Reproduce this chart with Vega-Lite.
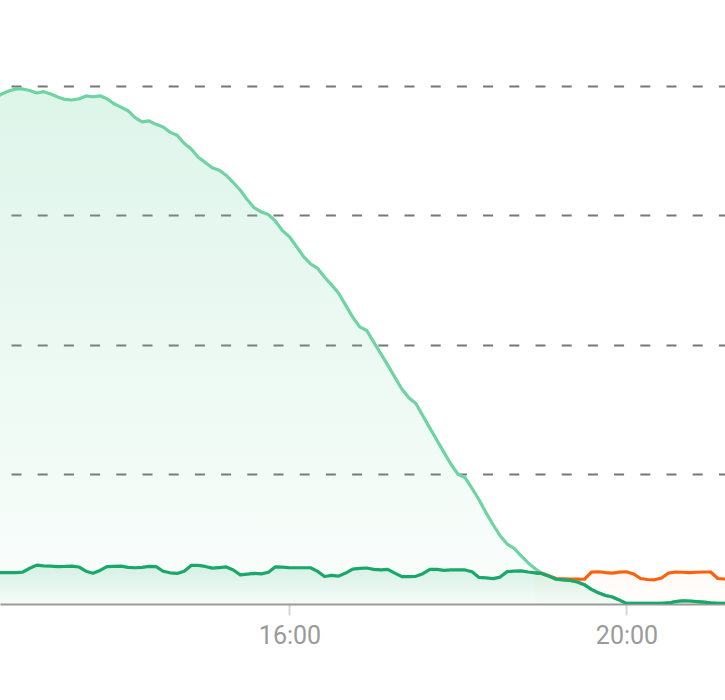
{
  "$schema": "https://vega.github.io/schema/vega-lite/v6.json",
  "width": 725,
  "height": 604,
  "autosize": {"type": "none"},
  "padding": {"left": 0, "top": 0, "right": 0, "bottom": 96},
  "background": "white",
  "config": {"view": {"stroke": null}, "font": "Roboto"},
  "data": {
    "format": {"parse": {"t": "date:'%Y-%m-%dT%H:%M'"}},
    "values": [
      {"t": "2024-06-01T12:30", "solar": 3.907, "self": 0.242},
      {"t": "2024-06-01T12:35", "solar": 3.938, "self": 0.242},
      {"t": "2024-06-01T12:40", "solar": 3.961, "self": 0.242},
      {"t": "2024-06-01T12:45", "solar": 3.977, "self": 0.242},
      {"t": "2024-06-01T12:50", "solar": 3.977, "self": 0.246},
      {"t": "2024-06-01T12:55", "solar": 3.965, "self": 0.276},
      {"t": "2024-06-01T13:00", "solar": 3.946, "self": 0.300},
      {"t": "2024-06-01T13:05", "solar": 3.956, "self": 0.295},
      {"t": "2024-06-01T13:10", "solar": 3.938, "self": 0.292},
      {"t": "2024-06-01T13:15", "solar": 3.915, "self": 0.289},
      {"t": "2024-06-01T13:20", "solar": 3.896, "self": 0.290},
      {"t": "2024-06-01T13:25", "solar": 3.892, "self": 0.293},
      {"t": "2024-06-01T13:30", "solar": 3.900, "self": 0.286},
      {"t": "2024-06-01T13:35", "solar": 3.923, "self": 0.253},
      {"t": "2024-06-01T13:40", "solar": 3.917, "self": 0.238},
      {"t": "2024-06-01T13:45", "solar": 3.924, "self": 0.259},
      {"t": "2024-06-01T13:50", "solar": 3.902, "self": 0.289},
      {"t": "2024-06-01T13:55", "solar": 3.863, "self": 0.291},
      {"t": "2024-06-01T14:00", "solar": 3.837, "self": 0.292},
      {"t": "2024-06-01T14:05", "solar": 3.809, "self": 0.283},
      {"t": "2024-06-01T14:10", "solar": 3.755, "self": 0.280},
      {"t": "2024-06-01T14:15", "solar": 3.723, "self": 0.283},
      {"t": "2024-06-01T14:20", "solar": 3.730, "self": 0.290},
      {"t": "2024-06-01T14:25", "solar": 3.704, "self": 0.289},
      {"t": "2024-06-01T14:30", "solar": 3.684, "self": 0.253},
      {"t": "2024-06-01T14:35", "solar": 3.642, "self": 0.241},
      {"t": "2024-06-01T14:40", "solar": 3.619, "self": 0.236},
      {"t": "2024-06-01T14:45", "solar": 3.558, "self": 0.253},
      {"t": "2024-06-01T14:50", "solar": 3.514, "self": 0.298},
      {"t": "2024-06-01T14:55", "solar": 3.450, "self": 0.298},
      {"t": "2024-06-01T15:00", "solar": 3.410, "self": 0.290},
      {"t": "2024-06-01T15:05", "solar": 3.368, "self": 0.277},
      {"t": "2024-06-01T15:10", "solar": 3.349, "self": 0.281},
      {"t": "2024-06-01T15:15", "solar": 3.309, "self": 0.286},
      {"t": "2024-06-01T15:20", "solar": 3.253, "self": 0.263},
      {"t": "2024-06-01T15:25", "solar": 3.195, "self": 0.225},
      {"t": "2024-06-01T15:30", "solar": 3.121, "self": 0.230},
      {"t": "2024-06-01T15:35", "solar": 3.058, "self": 0.236},
      {"t": "2024-06-01T15:40", "solar": 3.027, "self": 0.233},
      {"t": "2024-06-01T15:45", "solar": 3.007, "self": 0.245},
      {"t": "2024-06-01T15:50", "solar": 2.956, "self": 0.287},
      {"t": "2024-06-01T15:55", "solar": 2.883, "self": 0.285},
      {"t": "2024-06-01T16:00", "solar": 2.836, "self": 0.280},
      {"t": "2024-06-01T16:05", "solar": 2.760, "self": 0.280},
      {"t": "2024-06-01T16:10", "solar": 2.683, "self": 0.280},
      {"t": "2024-06-01T16:15", "solar": 2.626, "self": 0.280},
      {"t": "2024-06-01T16:20", "solar": 2.592, "self": 0.252},
      {"t": "2024-06-01T16:25", "solar": 2.523, "self": 0.212},
      {"t": "2024-06-01T16:30", "solar": 2.464, "self": 0.221},
      {"t": "2024-06-01T16:35", "solar": 2.400, "self": 0.215},
      {"t": "2024-06-01T16:40", "solar": 2.308, "self": 0.239},
      {"t": "2024-06-01T16:45", "solar": 2.215, "self": 0.270},
      {"t": "2024-06-01T16:50", "solar": 2.140, "self": 0.275},
      {"t": "2024-06-01T16:55", "solar": 2.112, "self": 0.278},
      {"t": "2024-06-01T17:00", "solar": 2.022, "self": 0.267},
      {"t": "2024-06-01T17:05", "solar": 1.934, "self": 0.264},
      {"t": "2024-06-01T17:10", "solar": 1.844, "self": 0.268},
      {"t": "2024-06-01T17:15", "solar": 1.752, "self": 0.239},
      {"t": "2024-06-01T17:20", "solar": 1.660, "self": 0.211},
      {"t": "2024-06-01T17:25", "solar": 1.592, "self": 0.211},
      {"t": "2024-06-01T17:30", "solar": 1.548, "self": 0.214},
      {"t": "2024-06-01T17:35", "solar": 1.453, "self": 0.234},
      {"t": "2024-06-01T17:40", "solar": 1.358, "self": 0.268},
      {"t": "2024-06-01T17:45", "solar": 1.264, "self": 0.268},
      {"t": "2024-06-01T17:50", "solar": 1.171, "self": 0.260},
      {"t": "2024-06-01T17:55", "solar": 1.079, "self": 0.263},
      {"t": "2024-06-01T18:00", "solar": 1.002, "self": 0.263},
      {"t": "2024-06-01T18:05", "solar": 0.976, "self": 0.263},
      {"t": "2024-06-01T18:10", "solar": 0.892, "self": 0.249},
      {"t": "2024-06-01T18:15", "solar": 0.805, "self": 0.205},
      {"t": "2024-06-01T18:20", "solar": 0.704, "self": 0.201},
      {"t": "2024-06-01T18:25", "solar": 0.612, "self": 0.196},
      {"t": "2024-06-01T18:30", "solar": 0.527, "self": 0.208},
      {"t": "2024-06-01T18:35", "solar": 0.463, "self": 0.250},
      {"t": "2024-06-01T18:40", "solar": 0.429, "self": 0.254},
      {"t": "2024-06-01T18:45", "solar": 0.371, "self": 0.256},
      {"t": "2024-06-01T18:50", "solar": 0.317, "self": 0.247},
      {"t": "2024-06-01T18:55", "solar": 0.272, "self": 0.240, "grid": 0.240},
      {"t": "2024-06-01T19:00", "solar": 0.234, "self": 0.234, "grid": 0.237},
      {"t": "2024-06-01T19:05", "solar": 0.214, "self": 0.214, "grid": 0.216},
      {"t": "2024-06-01T19:10", "solar": 0.191, "self": 0.191, "grid": 0.197},
      {"t": "2024-06-01T19:15", "solar": 0.186, "self": 0.186, "grid": 0.195},
      {"t": "2024-06-01T19:20", "solar": 0.182, "self": 0.182, "grid": 0.193},
      {"t": "2024-06-01T19:25", "solar": 0.170, "self": 0.170, "grid": 0.192},
      {"t": "2024-06-01T19:30", "solar": 0.149, "self": 0.149, "grid": 0.191},
      {"t": "2024-06-01T19:35", "solar": 0.113, "self": 0.113, "grid": 0.246},
      {"t": "2024-06-01T19:40", "solar": 0.086, "self": 0.086, "grid": 0.249},
      {"t": "2024-06-01T19:45", "solar": 0.066, "self": 0.066, "grid": 0.243},
      {"t": "2024-06-01T19:50", "solar": 0.054, "self": 0.054, "grid": 0.239},
      {"t": "2024-06-01T19:55", "solar": 0.030, "self": 0.030, "grid": 0.246},
      {"t": "2024-06-01T20:00", "solar": 0.005, "self": 0.005, "grid": 0.249},
      {"t": "2024-06-01T20:05", "solar": 0.005, "self": 0.005, "grid": 0.232},
      {"t": "2024-06-01T20:10", "solar": 0.005, "self": 0.005, "grid": 0.197},
      {"t": "2024-06-01T20:15", "solar": 0.005, "self": 0.005, "grid": 0.189},
      {"t": "2024-06-01T20:20", "solar": 0.005, "self": 0.005, "grid": 0.187},
      {"t": "2024-06-01T20:25", "solar": 0.005, "self": 0.005, "grid": 0.201},
      {"t": "2024-06-01T20:30", "solar": 0.008, "self": 0.008, "grid": 0.239},
      {"t": "2024-06-01T20:35", "solar": 0.019, "self": 0.019, "grid": 0.247},
      {"t": "2024-06-01T20:40", "solar": 0.025, "self": 0.025, "grid": 0.245},
      {"t": "2024-06-01T20:45", "solar": 0.023, "self": 0.023, "grid": 0.242},
      {"t": "2024-06-01T20:50", "solar": 0.019, "self": 0.019, "grid": 0.245},
      {"t": "2024-06-01T20:55", "solar": 0.015, "self": 0.015, "grid": 0.247},
      {"t": "2024-06-01T21:00", "solar": 0.009, "self": 0.009, "grid": 0.247},
      {"t": "2024-06-01T21:05", "solar": 0.005, "self": 0.005, "grid": 0.197},
      {"t": "2024-06-01T21:10", "solar": 0.005, "self": 0.005, "grid": 0.193},
      {"t": "2024-06-01T21:15", "solar": 0.005, "self": 0.005, "grid": 0.193}
    ]
  },
  "encoding": {
    "x": {
      "field": "t",
      "type": "temporal",
      "scale": {
        "domain": [
          {"year": 2024, "month": 6, "date": 1, "hours": 12, "minutes": 33, "seconds": 50},
          {"year": 2024, "month": 6, "date": 1, "hours": 21, "minutes": 10, "seconds": 9}
        ],
        "nice": false
      },
      "axis": {
        "format": "%H:%M",
        "values": [
          {"year": 2024, "month": 6, "date": 1, "hours": 16, "minutes": 0},
          {"year": 2024, "month": 6, "date": 1, "hours": 20, "minutes": 0}
        ],
        "grid": false,
        "title": null,
        "domainColor": "#9a9a9a",
        "domainWidth": 2,
        "tickColor": "#d6d6d6",
        "tickWidth": 2,
        "tickSize": 11,
        "labelColor": "#9a9a9a",
        "labelFont": "Roboto",
        "labelFontSize": 25,
        "labelPadding": 8,
        "labelFlush": false
      }
    }
  },
  "layer": [
    {
      "mark": {
        "type": "area",
        "clip": true,
        "color": {
          "gradient": "linear", "x1": 0, "y1": 0, "x2": 0, "y2": 1,
          "stops": [
            {"offset": 0, "color": "rgba(111,211,163,0.33)"},
            {"offset": 1, "color": "rgba(111,211,163,0.05)"}
          ]
        },
        "line": {"color": "#6fd3a3", "strokeWidth": 3.2, "strokeJoin": "round"}
      },
      "encoding": {
        "y": {
          "field": "solar",
          "type": "quantitative",
          "scale": {"domain": [0, 4.664], "nice": false},
          "axis": {
            "values": [1, 2, 3, 4],
            "title": null,
            "labels": false,
            "ticks": false,
            "domain": false,
            "gridColor": "#777777",
            "gridWidth": 2,
            "gridDash": [10, 16.2],
            "gridDashOffset": 15.2
          }
        }
      }
    },
    {
      "mark": {
        "type": "area",
        "clip": true,
        "color": {
          "gradient": "linear", "x1": 0, "y1": 0, "x2": 0, "y2": 1,
          "stops": [
            {"offset": 0, "color": "rgba(255,97,10,0.05)"},
            {"offset": 1, "color": "rgba(255,97,10,0.01)"}
          ]
        },
        "line": {"color": "#ff610a", "strokeWidth": 3.2, "strokeJoin": "round"}
      },
      "encoding": {
        "y": {"field": "grid", "type": "quantitative"}
      }
    },
    {
      "mark": {
        "type": "area",
        "clip": true,
        "color": {
          "gradient": "linear", "x1": 0, "y1": 0, "x2": 0, "y2": 1,
          "stops": [
            {"offset": 0, "color": "rgba(26,168,106,0.22)"},
            {"offset": 1, "color": "rgba(26,168,106,0.03)"}
          ]
        },
        "line": {"color": "#1aa86a", "strokeWidth": 3.2, "strokeJoin": "round"}
      },
      "encoding": {
        "y": {"field": "self", "type": "quantitative"}
      }
    }
  ]
}
